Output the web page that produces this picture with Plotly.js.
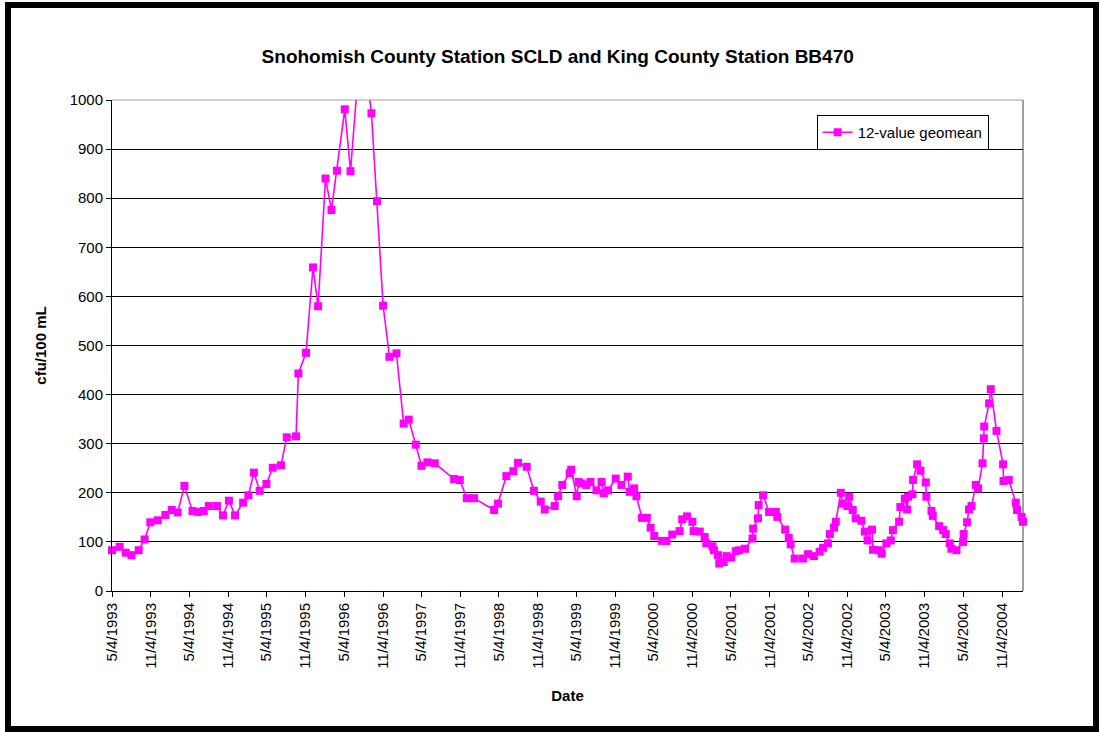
<!DOCTYPE html>
<html>
<head>
<meta charset="utf-8">
<script src="https://cdn.plot.ly/plotly-3.0.1.min.js"></script>
<style>
  html, body { margin: 0; padding: 0; background: #fff; }
  #wrap { position: relative; width: 1100px; height: 732px; overflow: hidden; }
  #chart { position: absolute; left: 0; top: 0; width: 1100px; height: 732px; }
  #frame { position: absolute; left: 5px; top: 2px; width: 1094px; height: 730px;
           border: 6px solid #000; box-sizing: border-box; pointer-events: none; }
</style>
</head>
<body>
<div id="wrap">
  <div id="chart"></div>
  <div id="frame"></div>
</div>
<script>
const dates = [
  '1993-05-04','1993-06-09','1993-07-08','1993-08-04','1993-09-07','1993-10-05','1993-11-01','1993-12-06',
  '1994-01-11','1994-02-10','1994-03-10','1994-04-11','1994-05-19','1994-06-14','1994-07-11','1994-08-04',
  '1994-09-12','1994-10-10','1994-11-07','1994-12-06',
  '1995-01-13','1995-02-07','1995-03-05','1995-04-01','1995-05-03','1995-06-02','1995-07-11','1995-08-07',
  '1995-09-20','1995-10-01','1995-11-06','1995-12-09',
  '1996-01-02','1996-02-06','1996-03-05','1996-03-31','1996-05-07','1996-06-03','1996-07-24','1996-09-10',
  '1996-10-06','1996-11-04','1996-12-04',
  '1997-01-06','1997-02-09','1997-03-05','1997-04-07','1997-05-04','1997-06-01','1997-07-06','1997-10-05',
  '1997-11-01','1997-12-04',
  '1998-01-07','1998-04-12','1998-04-30','1998-06-09','1998-07-12','1998-08-03','1998-09-13','1998-10-17',
  '1998-11-18','1998-12-07',
  '1999-01-23','1999-02-08','1999-02-28','1999-04-04','1999-04-11','1999-05-07','1999-05-16','1999-05-29',
  '1999-06-22','1999-07-11','1999-08-08','1999-09-01','1999-09-12','1999-10-02','1999-11-07','1999-12-04',
  '2000-01-03','2000-01-12','2000-02-02','2000-02-13','2000-03-10','2000-04-02','2000-04-20','2000-05-07',
  '2000-06-13','2000-07-04','2000-07-31','2000-09-04','2000-09-16','2000-10-09','2000-11-03','2000-11-09',
  '2000-12-08','2000-12-31',
  '2001-01-08','2001-02-06','2001-02-13','2001-03-04','2001-03-10','2001-03-31','2001-04-13','2001-05-06',
  '2001-05-27','2001-06-11','2001-07-10','2001-08-14','2001-08-17','2001-09-09','2001-09-12','2001-10-03',
  '2001-10-31','2001-12-02','2001-12-09',
  '2002-01-15','2002-02-01','2002-02-10','2002-03-01','2002-04-09','2002-05-03','2002-05-31','2002-06-27',
  '2002-07-13','2002-08-05','2002-08-14','2002-09-03','2002-09-11','2002-10-05','2002-10-14','2002-11-05',
  '2002-11-13','2002-11-30','2002-12-14',
  '2003-01-10','2003-01-26','2003-02-08','2003-03-01','2003-03-06','2003-04-02','2003-04-16','2003-05-08',
  '2003-05-29','2003-06-08','2003-07-07','2003-07-13','2003-08-03','2003-08-14','2003-08-18','2003-09-08',
  '2003-09-11','2003-09-30','2003-10-16','2003-11-10','2003-11-13','2003-12-07','2003-12-13',
  '2004-01-12','2004-01-31','2004-02-12','2004-03-02','2004-03-10','2004-04-03','2004-05-04','2004-05-07',
  '2004-05-23','2004-06-01','2004-06-13','2004-07-03','2004-07-14','2004-08-04','2004-08-10','2004-08-12',
  '2004-09-04','2004-09-12','2004-10-09','2004-11-09','2004-11-11','2004-12-06',
  '2005-01-08','2005-01-14','2005-02-04','2005-02-11'
];
const geomean = [
  83, 90, 78, 73, 83, 105, 140, 144,
  155, 165, 160, 214, 163, 161, 163, 173,
  173, 154, 184, 154,
  180, 195, 241, 204, 218, 251, 256, 313,
  315, 443, 485, 659,
  580, 840, 776, 856, 981, 855, 1135, 973,
  794, 581, 477,
  484, 341, 349, 298, 255, 262, 260, 228,
  226, 189,
  189, 165, 178, 234, 244, 261, 253, 204,
  182, 166,
  173, 193, 216, 240, 247, 193, 222, 219,
  216, 222, 205, 222, 199, 205, 229, 216,
  233, 202, 209, 193, 149, 149, 129, 112,
  102, 102, 115, 122, 146, 152, 141, 122,
  121, 110,
  97, 91, 83, 73, 56, 59, 71, 68,
  81, 83, 86, 107, 127, 148, 175, 195,
  161, 161, 151,
  125, 108, 95, 66, 66, 75, 71, 80,
  88, 97, 116, 129, 141, 200, 178, 173,
  192, 165, 148,
  143, 121, 103, 125, 84, 83, 76, 97,
  103, 124, 141, 171, 188, 166, 192, 197,
  226, 258, 245, 221, 192, 163, 153,
  132, 124, 116, 97, 86, 83, 100, 116,
  140, 166, 173, 216, 209, 260, 311, 335,
  382, 411, 326, 258, 224, 226,
  180, 165, 151, 141
];
const tickDates = [
  '1993-05-04','1993-11-04','1994-05-04','1994-11-04','1995-05-04','1995-11-04',
  '1996-05-04','1996-11-04','1997-05-04','1997-11-04','1998-05-04','1998-11-04',
  '1999-05-04','1999-11-04','2000-05-04','2000-11-04','2001-05-04','2001-11-04',
  '2002-05-04','2002-11-04','2003-05-04','2003-11-04','2004-05-04','2004-11-04'
];
const tickLabels = [
  '5/4/1993','11/4/1993','5/4/1994','11/4/1994','5/4/1995','11/4/1995',
  '5/4/1996','11/4/1996','5/4/1997','11/4/1997','5/4/1998','11/4/1998',
  '5/4/1999','11/4/1999','5/4/2000','11/4/2000','5/4/2001','11/4/2001',
  '5/4/2002','11/4/2002','5/4/2003','11/4/2003','5/4/2004','11/4/2004'
];
const seriesName = '12-value geomean';
const FONT = 'Liberation Sans, Arial, sans-serif';

const trace = {
  x: dates, y: geomean, type: 'scatter', mode: 'lines+markers', name: seriesName,
  line: {color: '#FF00FF', width: 1.6},
  marker: {symbol: 'square', size: 8, color: '#FF00FF'},
  cliponaxis: false
};

const layout = {
  width: 1100, height: 732,
  margin: {l: 112, r: 77, t: 100, b: 141},
  paper_bgcolor: '#ffffff', plot_bgcolor: '#ffffff',
  font: {family: FONT, size: 15, color: '#000'},
  title: {text: 'Snohomish County Station SCLD and King County Station BB470',
          font: {family: FONT, size: 19, color: '#000', weight: 'bold'},
          x: 0.507, xref: 'container', xanchor: 'center',
          y: 1 - 56/732, yref: 'container', yanchor: 'middle'},
  showlegend: true,
  legend: {x: 0.7735, y: 0.9695, xanchor: 'left', yanchor: 'top',
           bordercolor: '#000', borderwidth: 1, bgcolor: '#fff',
           font: {family: FONT, size: 15, color: '#000'}, itemwidth: 30,
           tracegroupgap: 0},
  xaxis: {
    type: 'date', range: ['1993-05-04', '2005-02-11'],
    tickmode: 'array', tickvals: tickDates, ticktext: tickLabels,
    tickangle: -90, ticks: 'outside', ticklen: 5, tickcolor: '#000',
    showline: true, linecolor: '#000', linewidth: 1,
    showgrid: false, zeroline: false,
    tickfont: {family: FONT, size: 15, color: '#000'},
    title: {text: 'Date', font: {family: FONT, size: 15, color: '#000', weight: 'bold'}, standoff: 22}
  },
  yaxis: {
    range: [0, 1000], dtick: 100, tick0: 0,
    ticks: 'outside', ticklen: 5, tickcolor: '#000',
    showline: true, linecolor: '#000', linewidth: 1,
    showgrid: true, gridcolor: '#000', gridwidth: 1, zeroline: false,
    tickfont: {family: FONT, size: 15, color: '#000'},
    title: {text: 'cfu/100 mL', font: {family: FONT, size: 15, color: '#000', weight: 'bold'}, standoff: 19}
  },
  shapes: [
    {type: 'line', xref: 'paper', yref: 'paper', x0: 0, x1: 1, y0: 1, y1: 1, line: {color: '#a0a0a0', width: 1}, layer: 'below'},
    {type: 'line', xref: 'paper', yref: 'paper', x0: 1, x1: 1, y0: 0, y1: 1, line: {color: '#808080', width: 1.5}, layer: 'below'}
  ]
};

Plotly.newPlot('chart', [trace], layout, {staticPlot: true, displayModeBar: false});
</script>
</body>
</html>
